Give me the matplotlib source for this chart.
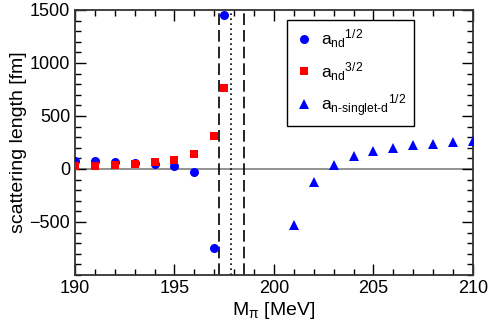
import matplotlib
matplotlib.use("Agg")
import matplotlib.pyplot as plt
from matplotlib.ticker import MultipleLocator

plt.rcParams['font.family'] = ['Liberation Sans', 'DejaVu Sans']
plt.rcParams['mathtext.fontset'] = 'custom'
plt.rcParams['mathtext.rm'] = 'Liberation Sans'
plt.rcParams['mathtext.it'] = 'Liberation Sans'

# a_nd^{1/2}
mpi_half = [190, 191, 192, 193, 194, 195, 196, 197, 197.5]
a_half = [71, 71, 65, 59, 50, 30, -27, -745, 1450]
# a_nd^{3/2}
mpi_three = [190, 191, 192, 193, 194, 195, 196, 197, 197.5]
a_three = [27, 27, 36, 50, 62, 87, 141, 312, 760]
# a_n-singlet-d^{1/2}
mpi_sing = [201, 202, 203, 204, 205, 206, 207, 208, 209, 210]
a_sing = [-532, -119, 36, 119, 170, 202, 224, 240, 255, 268]

dashed_x = [197.24, 198.5]
dotted_x = [197.86]

fig = plt.figure(figsize=(4.91, 3.28), dpi=100)
ax = fig.add_axes([0.1527, 0.1616, 0.8106, 0.808])

ax.axhline(0, color='#808080', linewidth=1.2, zorder=1)
for xv in dashed_x:
    ax.axvline(xv, color='black', linestyle=(0, (7, 3)), linewidth=1.2, zorder=1)
for xv in dotted_x:
    ax.axvline(xv, color='black', linestyle=(0, (1, 2)), linewidth=1.2, zorder=1)

ax.plot(mpi_half, a_half, 'o', color='blue', markersize=6.5, markeredgewidth=0,
        label=r'$\mathregular{a_{nd}}^{\mathregular{1/2}}$', zorder=3)
ax.plot(mpi_three, a_three, 's', color='red', markersize=6, markeredgewidth=0,
        label=r'$\mathregular{a_{nd}}^{\mathregular{3/2}}$', zorder=4)
ax.plot(mpi_sing, a_sing, '^', color='blue', markersize=7, markeredgewidth=0,
        label=r'$\mathregular{a_{n\text{-}singlet\text{-}d}}^{\mathregular{1/2}}$', zorder=3)

ax.set_xlim(190, 210)
ax.set_ylim(-1000, 1500)
ax.xaxis.set_major_locator(MultipleLocator(5))
ax.xaxis.set_minor_locator(MultipleLocator(1))
ax.yaxis.set_major_locator(MultipleLocator(500))
ax.yaxis.set_minor_locator(MultipleLocator(100))
ax.set_yticks([-500, 0, 500, 1000, 1500])
ax.tick_params(which='both', direction='in', top=True, right=True, labelsize=13)
ax.tick_params(which='major', length=8, width=1)
ax.tick_params(which='minor', length=4, width=1)
for s in ax.spines.values():
    s.set_linewidth(1.3)
    s.set_color('#333333')

ax.set_xlabel(r'M$_\pi$ [MeV]', fontsize=14, labelpad=2)
ax.set_ylabel('scattering length [fm]', fontsize=14, labelpad=2)

leg = ax.legend(loc='upper left', bbox_to_anchor=(0.533, 0.962), fontsize=12.5,
                frameon=True, fancybox=False, framealpha=1, edgecolor='black',
                handletextpad=0.5, labelspacing=0.55, borderpad=0.45,
                handlelength=1.0, borderaxespad=0)
leg.get_frame().set_linewidth(1.0)

fig.savefig('out.png', dpi=100)
